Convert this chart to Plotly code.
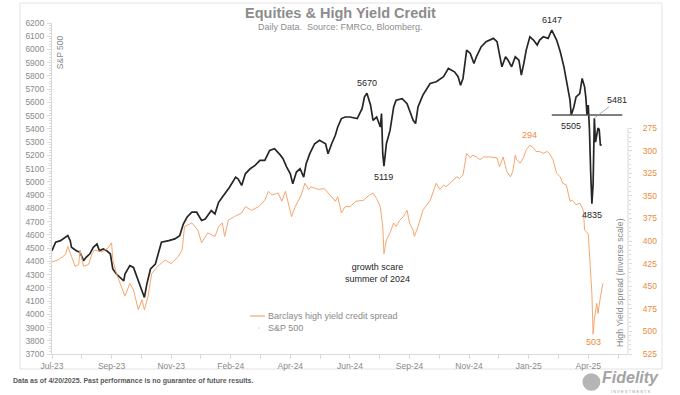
import plotly.graph_objects as go

# x = trading-session index (0 = first session of Jul-2023)
sp_day = [0, 3, 7, 11, 13, 15, 16, 20, 23, 26,
          28, 31, 34, 37, 39, 42, 45, 48, 50, 53,
          56, 59, 60, 64, 67, 70, 72, 75, 76, 78,
          81, 85, 87, 90, 96, 101, 105, 108, 111, 115,
          119, 123, 126, 129, 131, 134, 137, 140, 142, 146,
          151, 153, 156, 159, 163, 167, 171, 175, 179, 183,
          188, 190, 193, 196, 198, 201, 204, 207, 209, 212,
          216, 220, 225, 227, 230, 233, 235, 238, 241, 245,
          251, 255, 257, 259, 262, 264, 267, 270, 271, 272,
          273, 275, 278, 281, 283, 288, 292, 294, 297, 299,
          301, 305, 311, 316, 322, 326, 329, 331, 334, 336,
          338, 341, 344, 347, 349, 353, 357, 363, 366, 368,
          370, 373, 375, 378, 381, 384, 386, 388, 390, 393,
          396, 399, 401, 404, 408, 411, 413, 415, 418, 421,
          423, 426, 427, 429, 431, 434, 436, 438, 439, 440,
          441, 442, 443, 444, 445, 446, 447, 448, 449, 450,
          451, 452]
sp_value = [4480, 4544, 4556, 4581, 4594, 4556, 4506, 4480, 4468, 4405,
            4430, 4455, 4506, 4531, 4480, 4493, 4480, 4455, 4342, 4304,
            4278, 4253, 4304, 4367, 4354, 4278, 4215, 4152, 4127, 4228,
            4342, 4380, 4455, 4544, 4556, 4569, 4594, 4682, 4733, 4771,
            4771, 4708, 4720, 4758, 4783, 4758, 4846, 4884, 4910, 4960,
            5036, 5023, 4973, 5061, 5099, 5124, 5162, 5162, 5238, 5250,
            5200, 5175, 5112, 5061, 4985, 5074, 5099, 5036, 5137, 5213,
            5288, 5314, 5288, 5213, 5288, 5352, 5415, 5478, 5490, 5490,
            5478, 5553, 5642, 5670, 5579, 5465, 5490, 5415, 5516, 5213,
            5119, 5288, 5389, 5566, 5617, 5629, 5591, 5541, 5465, 5440,
            5566, 5655, 5743, 5756, 5794, 5857, 5844, 5831, 5794, 5730,
            5781, 5995, 5970, 5894, 5945, 6021, 6059, 6084, 6059, 5970,
            5869, 5945, 5920, 5869, 5945, 5920, 5806, 5894, 5995, 6096,
            6071, 6033, 6071, 6096, 6084, 6147, 6110, 6071, 5983, 5869,
            5768, 5617, 5505, 5560, 5642, 5667, 5781, 5718, 5640, 5505,
            5580, 5396, 5074, 4835, 4982, 5481, 5300, 5363, 5406, 5396,
            5276, 5283]

hy_day = [0, 5, 11, 13, 16, 19, 22, 23, 26, 30,
          33, 35, 41, 46, 49, 50, 53, 57, 60, 64,
          67, 71, 74, 76, 79, 82, 87, 93, 98, 104,
          107, 109, 115, 120, 123, 128, 134, 137, 140, 142,
          145, 150, 156, 159, 164, 170, 175, 178, 181, 186,
          189, 192, 194, 197, 200, 205, 208, 211, 213, 219,
          224, 230, 233, 235, 238, 241, 245, 250, 256, 261,
          264, 267, 270, 272, 273, 275, 278, 281, 283, 286,
          289, 292, 294, 297, 298, 301, 305, 311, 316, 319,
          322, 324, 327, 330, 333, 335, 338, 341, 344, 346,
          349, 352, 355, 360, 366, 368, 371, 374, 377, 379,
          381, 382, 385, 388, 390, 393, 396, 398, 401, 404,
          407, 409, 412, 415, 418, 420, 423, 426, 428, 431,
          434, 437, 438, 441, 442, 444, 445, 446, 448, 449,
          451, 452, 453]
hy_value = [423, 421, 415, 406, 417, 428, 426, 410, 428, 426,
            414, 410, 412, 408, 402, 421, 436, 450, 461, 447,
            454, 476, 465, 476, 461, 436, 428, 421, 425, 417,
            410, 384, 380, 388, 402, 391, 395, 384, 380, 395,
            377, 373, 369, 362, 366, 362, 355, 345, 349, 347,
            356, 345, 355, 373, 362, 349, 336, 343, 340, 343,
            342, 351, 356, 351, 369, 362, 362, 356, 355, 349,
            347, 353, 362, 384, 414, 399, 391, 380, 384, 377,
            373, 366, 380, 388, 395, 384, 366, 355, 336, 343,
            338, 340, 336, 332, 329, 331, 327, 303, 308, 305,
            307, 310, 307, 307, 308, 318, 307, 323, 329, 323,
            305, 310, 314, 307, 299, 294, 297, 301, 301, 303,
            301, 303, 310, 325, 329, 336, 338, 356, 355, 360,
            358, 366, 388, 392, 414, 458, 503, 487, 469, 480,
            462, 456, 447]

tick_day = [0, 49, 98, 147, 196, 245, 294, 343, 392, 441]
tick_label = ["Jul-23", "Sep-23", "Nov-23", "Feb-24", "Apr-24",
              "Jun-24", "Sep-24", "Nov-24", "Jan-25", "Apr-25"]
hy_ticks = [275, 300, 325, 350, 375, 400, 425, 450, 475, 500, 525]

sp_label_day = [411, 259, 273, 427, 444]
sp_label_value = [6147, 5670, 5119, 5505, 4835]
sp_label_side = ["above", "above", "below", "below", "below"]
hy_label_day = [393, 445]
hy_label_value = [294, 503]
hy_label_side = ["above", "below"]
support_level = 5505
support_from, support_to = 411, 469
retest_day, retest_value = 446, 5481
scare_day, scare_value = 268, 414

FONT = "Arial, 'Liberation Sans', sans-serif"
GRAY = "#8a8a8a"
AXIS = "#d9d9d9"
ORANGE_LINE = "#F6A66E"
ORANGE_TEXT = "#F08A3C"
DARK = "#262626"

fig = go.Figure()
fig.add_trace(go.Scatter(x=sp_day, y=sp_value, mode="lines", name="S&P 500",
                         line=dict(color=DARK, width=1.7), showlegend=False))
fig.add_trace(go.Scatter(x=hy_day, y=hy_value, mode="lines", yaxis="y2",
                         name="Barclays high yield credit spread",
                         line=dict(color=ORANGE_LINE, width=1), showlegend=False))

x_max = 473.7
fig.update_layout(
    width=680, height=395,
    margin=dict(l=52, r=52, t=23, b=41),
    paper_bgcolor="white", plot_bgcolor="white",
    font=dict(family=FONT, color=GRAY, size=8.5),
    xaxis=dict(range=[0, x_max], tickmode="array", tickvals=tick_day, ticktext=tick_label,
               ticks="outside", ticklen=4, tickcolor=AXIS, showline=True, linecolor=AXIS,
               showgrid=False, zeroline=False, tickfont=dict(size=8.5, color=GRAY),
               minor=dict(tickvals=[d + 24.5 for d in tick_day], ticks="outside",
                          ticklen=4, tickcolor=AXIS)),
    yaxis=dict(range=[3700, 6200], tick0=3700, dtick=100, ticks="outside", ticklen=4,
               tickcolor=AXIS, showline=True, linecolor=AXIS, showgrid=False,
               zeroline=False, tickfont=dict(size=8.5, color=GRAY), ticklabelstandoff=1,
               minor=dict(dtick=20, ticks="outside", ticklen=2, tickcolor=AXIS)),
    yaxis2=dict(overlaying="y", side="right", anchor="x", range=[525, 158.8],
                tickmode="array", tickvals=hy_ticks, ticks="outside", ticklen=3,
                tickcolor=AXIS, showline=False, showgrid=False, zeroline=False,
                tickfont=dict(size=8.5, color=ORANGE_TEXT), ticklabelstandoff=9,
                minor=dict(tickvals=[v for v in range(280, 525, 5) if v % 25],
                           ticks="outside", ticklen=2, tickcolor=AXIS)),
)

shapes = [
    # outer frame
    dict(type="rect", xref="paper", yref="paper", x0=-0.0556, x1=1.059, y0=-0.0453, y1=1.0604,
         line=dict(color="#e3e3e3", width=1), layer="below"),
    # right axis line (only over labelled range)
    dict(type="line", xref="paper", yref="y2", x0=1, x1=1, y0=hy_ticks[0], y1=hy_ticks[-1],
         line=dict(color=AXIS, width=1)),
    # support line
    dict(type="line", xref="x", yref="y", x0=support_from, x1=support_to,
         y0=support_level, y1=support_level, line=dict(color="#555555", width=1.5)),
    # legend symbols
    dict(type="line", xref="paper", yref="paper", x0=0.3437, x1=0.3698, y0=0.1148, y1=0.1148,
         line=dict(color=ORANGE_LINE, width=1.2)),
    dict(type="circle", xref="paper", yref="paper", x0=0.3580, x1=0.3608, y0=0.0770, y1=0.0800,
         fillcolor="#aaaaaa", line=dict(width=0)),
    # logo mark
    dict(type="circle", xref="paper", yref="paper", x0=0.921, x1=0.952, y0=-0.111, y1=-0.058,
         fillcolor="#b5b5b5", line=dict(width=0)),
]
fig.update_layout(shapes=shapes)

def ann(**kw):
    base = dict(showarrow=False, font=dict(family=FONT, size=9, color=DARK))
    base.update(kw)
    fig.add_annotation(**base)

# titles
ann(text="<b>Equities & High Yield Credit</b>", xref="paper", yref="paper", x=0.5, y=1.030,
    xanchor="center", yanchor="middle", font=dict(family=FONT, size=14.5, color="#8c8c8c"))
ann(text="Daily Data.\u00a0 Source: FMRCo, Bloomberg.", xref="paper", yref="paper", x=0.5, y=0.988,
    xanchor="center", yanchor="middle", font=dict(family=FONT, size=9, color="#8c8c8c"))
ann(text="<b>Data as of 4/20/2025. Past performance is no guarantee of future results.</b>",
    xref="paper", yref="paper", x=-0.0712, y=-0.0816, xanchor="left", yanchor="middle",
    font=dict(family=FONT, size=7, color="#595959"))
# axis titles
ann(text="S&P 500", xref="paper", yref="paper", x=0.0139, y=0.912, textangle=-90,
    xanchor="center", yanchor="middle", font=dict(family=FONT, size=8.5, color=GRAY))
ann(text="High Yield spread (inverse scale)", xref="paper", yref="paper", x=0.986, y=0.2175,
    textangle=-90, xanchor="center", yanchor="middle", font=dict(family=FONT, size=8.8, color=GRAY))
# legend
ann(text="Barclays high yield credit spread", xref="paper", yref="paper", x=0.3715, y=0.1148,
    xanchor="left", yanchor="middle", font=dict(family=FONT, size=9, color=GRAY))
ann(text="S&P 500", xref="paper", yref="paper", x=0.3715, y=0.0785,
    xanchor="left", yanchor="middle", font=dict(family=FONT, size=9, color=GRAY))
# data labels
for d, v, s in zip(sp_label_day, sp_label_value, sp_label_side):
    ann(text=str(v), xref="x", yref="y", x=d, y=v,
        yanchor="bottom" if s == "above" else "top", yshift=3 if s == "above" else -4)
for d, v, s in zip(hy_label_day, hy_label_value, hy_label_side):
    ann(text=str(v), xref="x", yref="y2", x=d, y=v,
        yanchor="bottom" if s == "above" else "top", yshift=3 if s == "above" else -1,
        font=dict(family=FONT, size=9, color=ORANGE_TEXT))
ann(text="growth scare<br>summer of 2024", xref="x", yref="y2", x=scare_day, y=scare_value,
    yanchor="top", yshift=-6)
fig.add_annotation(text=str(retest_value), xref="x", yref="y", x=retest_day, y=retest_value,
                   showarrow=True, arrowhead=0, arrowwidth=0.8, arrowcolor="#9a9a9a",
                   ax=23, ay=-18, font=dict(family=FONT, size=9, color=DARK))
# logo
ann(text="<b><i>Fidelity</i></b>", xref="paper", yref="paper", x=1.0035, y=-0.0695,
    xanchor="center", yanchor="middle", font=dict(family=FONT, size=16, color="#a3a3a3"))
ann(text="I N V E S T M E N T S", xref="paper", yref="paper", x=1.006, y=-0.1125,
    xanchor="center", yanchor="middle", font=dict(family=FONT, size=4, color="#a3a3a3"))

fig.write_html("out.html",
               config={"displayModeBar": False},
               post_script="document.body.style.margin='0';document.body.style.padding='0';"
                           "document.body.style.overflow='hidden';")
